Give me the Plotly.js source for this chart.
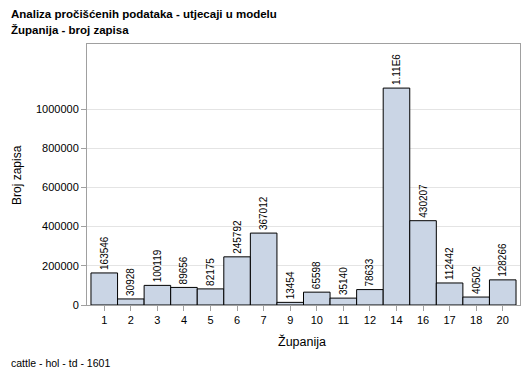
<!DOCTYPE html>
<html><head><meta charset="utf-8">
<script src="https://cdn.plot.ly/plotly-3.0.1.min.js"></script>
<style>html,body{margin:0;padding:0;background:#fff;}#chart{width:529px;height:378px;}</style>
</head><body><div id="chart"></div>
<script>
const zupanije = ['1','2','3','4','5','6','7','9','10','11','12','14','16','17','18','20'];
const brojZapisa = [163546, 30928, 100119, 89656, 82175, 245792, 367012, 13454, 65598, 35140, 78633, 1107000, 430207, 112442, 40502, 128266];
const oznake = ['163546','30928','100119','89656','82175','245792','367012','13454','65598','35140','78633','1.11E6','430207','112442','40502','128266'];
const yTicks = [0, 200000, 400000, 600000, 800000, 1000000];

const F = 'Arial, "Liberation Sans", sans-serif';
const L = 87, R = 520, T = 44, B = 305;
const px = x => (x - L) / (R - L);
const py = y => (B - y) / (B - T);

const trace = {
  type: 'bar', x: zupanije, y: brojZapisa,
  text: oznake, texttemplate: '%{text}', textposition: 'outside', textangle: -90,
  constraintext: 'none',
  textfont: {family: F, size: 10, color: '#000'}, cliponaxis: false,
  marker: {color: '#cad5e5', line: {color: '#000', width: 1}},
  hoverinfo: 'none'
};
const layout = {
  width: 529, height: 378,
  margin: {l: L, r: 529 - R, t: T, b: 378 - B, pad: 0},
  paper_bgcolor: '#fff', plot_bgcolor: '#fff',
  bargap: 0, showlegend: false,
  font: {family: F, size: 11, color: '#000'},
  xaxis: {type: 'category', range: [-0.65, 15.65], showgrid: false, zeroline: false,
    showline: true, mirror: true, linecolor: '#a0a0a0', linewidth: 1,
    ticks: 'outside', ticklen: 5, tickcolor: '#a0a0a0',
    tickfont: {family: F, size: 11, color: '#000'}},
  yaxis: {range: [0, 1332000], tickvals: yTicks, tickformat: 'd',
    showgrid: true, gridcolor: '#e4e4e4', zeroline: false,
    showline: true, mirror: true, linecolor: '#a0a0a0', linewidth: 1,
    ticks: 'outside', ticklen: 5, tickcolor: '#a0a0a0',
    tickfont: {family: F, size: 11, color: '#000'}},
  annotations: [
    {text: '<b>Analiza pročišćenih podataka - utjecaji u modelu</b>', xref: 'paper', yref: 'paper',
     x: px(9), y: py(14), xanchor: 'left', yanchor: 'middle', showarrow: false, font: {family: F, size: 11.5}},
    {text: '<b>Županija - broj zapisa</b>', xref: 'paper', yref: 'paper',
     x: px(9), y: py(30), xanchor: 'left', yanchor: 'middle', showarrow: false, font: {family: F, size: 11.5}},
    {text: 'cattle - hol - td - 1601', xref: 'paper', yref: 'paper',
     x: px(9), y: py(363), xanchor: 'left', yanchor: 'middle', showarrow: false, font: {family: F, size: 10.5}},
    {text: 'Broj zapisa', xref: 'paper', yref: 'paper', textangle: -90,
     x: px(17), y: py(175), xanchor: 'center', yanchor: 'middle', showarrow: false, font: {family: F, size: 12}},
    {text: 'Županija', xref: 'paper', yref: 'paper',
     x: px(302), y: py(341), xanchor: 'center', yanchor: 'middle', showarrow: false, font: {family: F, size: 12.5}}
  ]
};
Plotly.newPlot('chart', [trace], layout, {staticPlot: true, displayModeBar: false});
</script></body></html>
